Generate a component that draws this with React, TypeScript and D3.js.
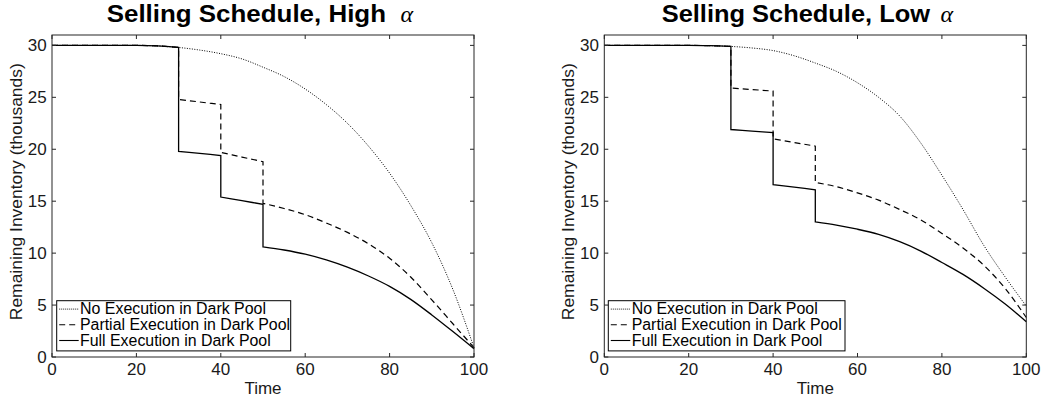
import React from 'react';
import * as d3 from 'd3';

// ---- data ----
const TIME_FULL = [0, 5, 10, 15, 20, 25, 30, 35, 40, 45, 50, 55, 60, 65, 70, 75, 80, 85, 90, 95, 100];
const T_A = [30, 35, 40];
const T_B = [40, 45, 50];
const T_POST = [50, 55, 60, 65, 70, 75, 80, 85, 90, 95, 100];
const X_TICKS = [0, 20, 40, 60, 80, 100];
const Y_TICKS = [0, 5, 10, 15, 20, 25, 30];
const LEGEND_LABELS = ['No Execution in Dark Pool', 'Partial Execution in Dark Pool', 'Full Execution in Dark Pool'];

const HIGH_NO_EXEC = [30, 30, 30, 30, 30, 29.95, 29.8, 29.55, 29.2, 28.7, 27.9, 27.0, 25.8, 24.3, 22.5, 20.3, 17.7, 14.6, 11.0, 6.5, 0.9];
const HIGH_PARTIAL_A = [24.8, 24.55, 24.3];
const HIGH_PARTIAL_B = [19.7, 19.25, 18.8];
const HIGH_PARTIAL_POST = [14.8, 14.3, 13.7, 12.9, 12.0, 10.9, 9.5, 7.7, 5.5, 3.2, 0.9];
const HIGH_FULL_A = [19.8, 19.6, 19.4];
const HIGH_FULL_B = [15.4, 15.05, 14.7];
const HIGH_FULL_POST = [10.6, 10.3, 9.9, 9.35, 8.65, 7.8, 6.8, 5.55, 4.05, 2.45, 0.8];

const LOW_NO_EXEC = [30, 30, 30, 30, 30, 29.97, 29.9, 29.75, 29.5, 29.0, 28.3, 27.5, 26.4, 25.0, 23.2, 20.6, 17.5, 14.2, 10.7, 7.7, 4.9];
const LOW_PARTIAL_A = [25.9, 25.75, 25.6];
const LOW_PARTIAL_B = [21.0, 20.65, 20.3];
const LOW_PARTIAL_POST = [16.8, 16.4, 15.8, 15.1, 14.2, 13.2, 11.9, 10.5, 8.8, 6.6, 3.8];
const LOW_FULL_A = [21.9, 21.75, 21.6];
const LOW_FULL_B = [16.6, 16.35, 16.1];
const LOW_FULL_POST = [13.0, 12.7, 12.3, 11.8, 11.1, 10.2, 9.1, 7.95, 6.6, 5.1, 3.4];

const FONT = '"Liberation Sans", Arial, Helvetica, sans-serif';

type Pt = [number, number];
const zip = (t: number[], v: number[]): Pt[] => t.map((x, i) => [x, v[i]]);

interface PanelProps {
  left: number;
  word: string;
  titleX: number;
  titleLen: number;
  alphaX: number;
  noExec: number[];
  partial: number[][];
  full: number[][];
  legendOffset: number;
  legendWidth: number;
  textOffset: number;
}

const STYLES = [
  { width: 1, dash: '1,1.5' },
  { width: 1.2, dash: '6,4' },
  { width: 1.3, dash: 'none' },
];
const LEGEND_TEXT_LEN = [186, 210, 190.7];

function Panel({ left, word, titleX, titleLen, alphaX, noExec, partial, full, legendOffset, legendWidth, textOffset }: PanelProps) {
  const top = 35, bottom = 357, width = 422;
  const x = d3.scaleLinear().domain([0, 100]).range([left, left + width]);
  const y = d3.scaleLinear().domain([0, 31]).range([bottom, top]);
  const line = d3.line<Pt>().x(d => x(d[0])).y(d => y(d[1])).curve(d3.curveMonotoneX);

  const pre = zip(TIME_FULL, noExec).filter(d => d[0] <= 30);
  const stepPath = (parts: number[][]) => {
    const segs: Pt[][] = [pre, zip(T_A, parts[0]), zip(T_B, parts[1]), zip(T_POST, parts[2])];
    return segs.map((s, i) => {
      const p = line(s) || '';
      return i === 0 ? p : 'L' + p.slice(1);
    }).join('');
  };
  const paths = [line(zip(TIME_FULL, noExec)) || '', stepPath(partial), stepPath(full)];

  const tick = 4;
  const lgX = left + legendOffset, lgY = 300.7, lgH = 50.2;
  const ink = '#1a1a1a';

  return (
    <g>
      <text x={titleX} y={22} fontFamily={FONT} fontWeight="bold" fontSize={24} textLength={titleLen} lengthAdjust="spacingAndGlyphs" fill="#000">
        Selling Schedule, {word}
      </text>
      <text x={alphaX} y={22} fontFamily='"Liberation Serif", serif' fontStyle="italic" fontSize={24} fill="#000">α</text>
      {paths.map((p, i) => (
        <path key={i} d={p} fill="none" stroke="#000" strokeWidth={STYLES[i].width} strokeDasharray={STYLES[i].dash} />
      ))}
      <rect x={left} y={top} width={width} height={bottom - top} fill="none" stroke="#262626" strokeWidth={1} />
      {X_TICKS.map(t => (
        <g key={'x' + t}>
          <line x1={x(t)} x2={x(t)} y1={bottom} y2={bottom - tick} stroke="#262626" />
          <line x1={x(t)} x2={x(t)} y1={top} y2={top + tick} stroke="#262626" />
          <text x={x(t)} y={375} textAnchor="middle" fontFamily={FONT} fontSize={17} fill={ink}>{t}</text>
        </g>
      ))}
      {Y_TICKS.map(t => (
        <g key={'y' + t}>
          <line x1={left} x2={left + tick} y1={y(t)} y2={y(t)} stroke="#262626" />
          <line x1={left + width} x2={left + width - tick} y1={y(t)} y2={y(t)} stroke="#262626" />
          <text x={left - 5.3} y={y(t) + 6} textAnchor="end" fontFamily={FONT} fontSize={17} fill={ink}>{t}</text>
        </g>
      ))}
      <text x={left + width / 2} y={394} textAnchor="middle" fontFamily={FONT} fontSize={17} fill={ink}>Time</text>
      <text transform={`translate(${left - 30.5},191.7) rotate(-90)`} textAnchor="middle" fontFamily={FONT} fontSize={17}
        textLength={257} lengthAdjust="spacingAndGlyphs" fill={ink}>
        Remaining Inventory (thousands)
      </text>
      <rect x={lgX} y={lgY} width={legendWidth} height={lgH} fill="#fff" stroke="#000" strokeWidth={1} />
      {LEGEND_LABELS.map((lab, i) => {
        const base = 314.3 + i * 15.7;
        const ry = base - 5.2;
        return (
          <g key={lab}>
            <line x1={lgX + 2.5} x2={lgX + 22} y1={ry} y2={ry} stroke="#000" strokeWidth={i === 0 ? 0.9 : 1.1} strokeDasharray={i === 0 ? '1,1' : STYLES[i].dash} />
            <text x={left + textOffset} y={base} fontFamily={FONT} fontSize={16} textLength={LEGEND_TEXT_LEN[i]} lengthAdjust="spacingAndGlyphs" fill="#000">{lab}</text>
          </g>
        );
      })}
    </g>
  );
}

export default function App() {
  return (
    <svg width={1047} height={401} style={{ position: 'absolute', left: 0, top: 0, background: '#fff' }}>
      <rect x={0} y={0} width={1047} height={401} fill="#fff" />
      <Panel left={52} word="High" titleX={106.7} titleLen={279.3} alphaX={400.5} noExec={HIGH_NO_EXEC}
        partial={[HIGH_PARTIAL_A, HIGH_PARTIAL_B, HIGH_PARTIAL_POST]}
        full={[HIGH_FULL_A, HIGH_FULL_B, HIGH_FULL_POST]} legendOffset={4.7} legendWidth={234} textOffset={28} />
      <Panel left={604.3} word="Low" titleX={661.7} titleLen={268.3} alphaX={940.5} noExec={LOW_NO_EXEC}
        partial={[LOW_PARTIAL_A, LOW_PARTIAL_B, LOW_PARTIAL_POST]}
        full={[LOW_FULL_A, LOW_FULL_B, LOW_FULL_POST]} legendOffset={4} legendWidth={236.7} textOffset={27.4} />
    </svg>
  );
}
